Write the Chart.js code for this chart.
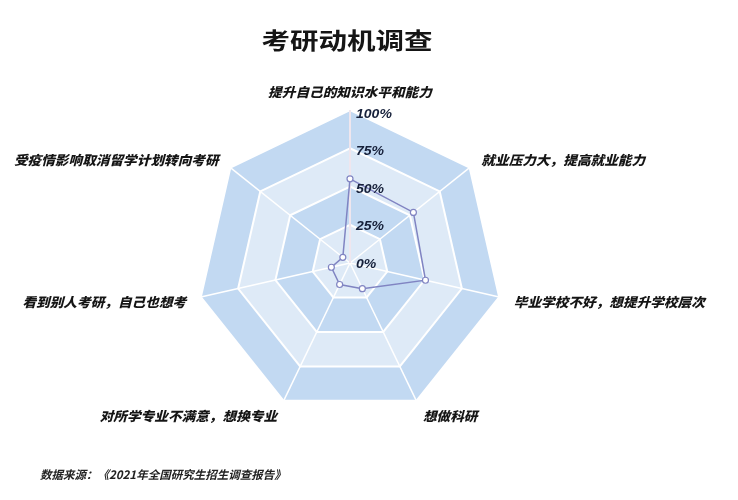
<!DOCTYPE html>
<html><head><meta charset="utf-8">
<script src="https://cdn.jsdelivr.net/npm/chart.js@4.4.1/dist/chart.umd.min.js"></script>
<style>html,body{margin:0;padding:0;background:#fff;} #wrap{position:relative;width:738px;height:500px;}</style>
</head><body><div id="wrap"><canvas id="c" width="738" height="500"></canvas></div>
<script>
const chartTitle = '考研动机调查';
const sourceNote = '数据来源：《2021年全国研究生招生调查报告》';
const categories = ['提升自己的知识水平和能力', '就业压力大，提高就业能力', '毕业学校不好，想提升学校层次', '想做科研', '对所学专业不满意，想换专业', '看到别人考研，自己也想考', '受疫情影响取消留学计划转向考研'];
const values = [55, 53, 50.6, 18.6, 15.6, 12.5, 6];
const tickValues = [0, 25, 50, 75, 100];
const tickLabels = ['0%', '25%', '50%', '75%', '100%'];
const bandColors = ['#c2d9f2', '#deeaf7'];

const CJK = '"Noto Sans CJK SC", "Noto Sans", sans-serif';

function stretchedText(ctx, text, x, y, font, color, align, sx) {
  ctx.save();
  ctx.font = font;
  ctx.fillStyle = color;
  ctx.textBaseline = 'middle';
  ctx.textAlign = 'left';
  const w = ctx.measureText(text).width * sx;
  const left = align === 'left' ? x : (align === 'right' ? x - w : x - w / 2);
  ctx.translate(left, y);
  ctx.scale(sx, 1);
  ctx.fillText(text, 0, 0);
  ctx.restore();
}

const bandsPlugin = {
  id: 'bands',
  beforeDraw(chart) {
    const s = chart.scales.r, ctx = chart.ctx, n = chart.data.labels.length;
    const rings = tickValues.filter(v => v > 0).sort((a, b) => b - a);
    ctx.save();
    rings.forEach((v, k) => {
      const d = s.getDistanceFromCenterForValue(v);
      ctx.beginPath();
      for (let i = 0; i < n; i++) {
        const p = s.getPointPosition(i, d);
        if (i) ctx.lineTo(p.x, p.y); else ctx.moveTo(p.x, p.y);
      }
      ctx.closePath();
      ctx.fillStyle = bandColors[k % 2];
      ctx.fill();
    });
    ctx.restore();
  }
};

const textPlugin = {
  id: 'texts',
  afterDraw(chart) {
    const s = chart.scales.r, ctx = chart.ctx;
    tickValues.forEach((v, i) => {
      const d = s.getDistanceFromCenterForValue(v);
      stretchedText(ctx, tickLabels[i], s.xCenter + 6, s.yCenter - d * 0.98 + 1, 'italic bold 13px "Liberation Sans", Arial, sans-serif', '#16203a', 'left', 1.08);
    });
    categories.forEach((lab, i) => {
      const p = s.getPointPosition(i, s.drawingArea + 15);
      const dx = p.x - s.xCenter;
      const align = Math.abs(dx) < 5 ? 'center' : (dx > 0 ? 'left' : 'right');
      const y = i === 0 ? p.y - 3 : p.y + 2;
      stretchedText(ctx, lab, p.x, y, 'italic 900 13px ' + CJK, '#151515', align, 1.05);
    });
    stretchedText(ctx, chartTitle, 347, 40, 'bold 23px ' + CJK, '#151515', 'center', 1.24);
    stretchedText(ctx, sourceNote, 40, 475, 'italic bold 11.5px ' + CJK, '#222222', 'left', 1.0);
  }
};

new Chart(document.getElementById('c'), {
  type: 'radar',
  data: {
    labels: categories,
    datasets: [{
      data: values,
      borderColor: '#8084c2',
      borderWidth: 1.5,
      backgroundColor: 'rgba(0,0,0,0)',
      fill: false,
      pointRadius: 3,
      pointBorderWidth: 1.2,
      pointBackgroundColor: '#ffffff',
      pointBorderColor: '#8084c2',
      tension: 0
    }]
  },
  options: {
    responsive: false,
    animation: false,
    layout: { padding: { left: 197, right: 235, top: 110, bottom: 84 } },
    plugins: { legend: { display: false }, tooltip: { enabled: false }, title: { display: false } },
    scales: {
      r: {
        min: 0, max: 100,
        ticks: { stepSize: 25, display: false },
        pointLabels: { display: false },
        grid: { color: '#ffffff', lineWidth: 2 },
        angleLines: {
          color: c => c.index === 0 ? '#efe6ee' : '#ffffff',
          lineWidth: c => c.index === 0 ? 2 : 1.5
        }
      }
    }
  },
  plugins: [bandsPlugin, textPlugin]
});
</script>
</body></html>
